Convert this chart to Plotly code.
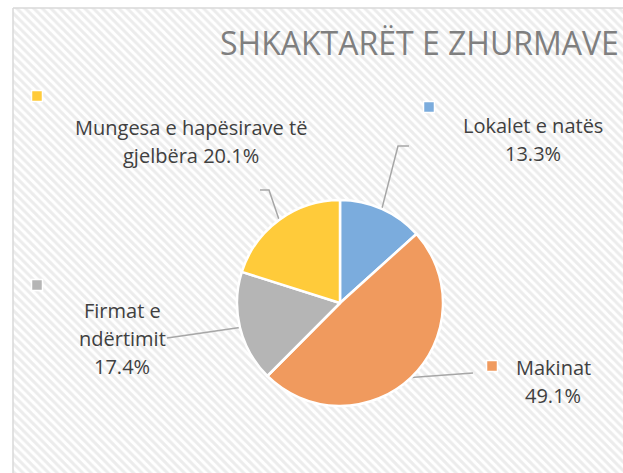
import math
import plotly.graph_objects as go

# ---- data ----
labels = ["Lokalet e natës", "Makinat", "Firmat e ndërtimit", "Mungesa e hapësirave të gjelbëra"]
values = [13.3, 49.1, 17.4, 20.1]
colors = ["#7BACDD", "#F09A5E", "#B5B5B5", "#FFCB3A"]
label_lines = [["Lokalet e natës", "13.3%"],
               ["Makinat", "49.1%"],
               ["Firmat e", "ndërtimit", "17.4%"],
               ["Mungesa e hapësirave të", "gjelbëra 20.1%"]]
title_text = "SHKAKTARËT E ZHURMAVE"

# ---- layout constants (pixels) ----
W, H = 623, 473
CX, CY, R = 340, 303, 103
label_pos = [(533, 125), (553, 367), (122, 310), (191, 127)]
marker_pos = [(429, 107), (492, 366), (37, 285), (37, 96)]
# leader-line extra points (from slice edge toward label)
leader_via = [[(398, 146), (409, 146)],
              [(473, 373)],
              [(167, 338)],
              [(269, 190), (260, 190)]]
LINE_SP = 28

fig = go.Figure()

# hatched chart-area background
fig.add_trace(go.Scatter(
    x=[13, W + 40, W + 40, 13, 13], y=[8, 8, H + 40, H + 40, 8],
    mode="lines", fill="toself",
    line=dict(color="#D9D9D9", width=1.5),
    fillcolor="white",
    fillpattern=dict(shape="\\", fgcolor="#D9D9D9", bgcolor="white", size=6, solidity=0.5),
    hoverinfo="skip", showlegend=False))

# leader lines computed from slice mid-angles
total = sum(values)
cum = 0
for i, v in enumerate(values):
    mid = (cum + v / 2) / total * 2 * math.pi
    cum += v
    ex = CX + R * math.sin(mid)
    ey = CY - R * math.cos(mid)
    xs = [ex] + [p[0] for p in leader_via[i]]
    ys = [ey] + [p[1] for p in leader_via[i]]
    fig.add_trace(go.Scatter(x=xs, y=ys, mode="lines",
                             line=dict(color="#A6A6A6", width=1.5),
                             hoverinfo="skip", showlegend=False))

# legend-like squares
fig.add_trace(go.Scatter(
    x=[p[0] for p in marker_pos], y=[p[1] for p in marker_pos], mode="markers",
    marker=dict(symbol="square", size=11, color=colors, line=dict(color="white", width=1.5)),
    hoverinfo="skip", showlegend=False))

# pie
fig.add_trace(go.Pie(
    labels=labels, values=values, sort=False, direction="clockwise", rotation=0,
    marker=dict(colors=colors, line=dict(color="white", width=2.5)),
    textinfo="none", showlegend=False,
    domain=dict(x=[(CX - R) / W, (CX + R) / W], y=[1 - (CY + R) / H, 1 - (CY - R) / H])))

annotations = []
for (lx, ly), lines in zip(label_pos, label_lines):
    for k, t in enumerate(lines):
        annotations.append(dict(x=lx, y=ly + k * LINE_SP, xref="x", yref="y", text=t,
                                showarrow=False, xanchor="center", yanchor="middle",
                                font=dict(family="Open Sans", size=20, color="#404040")))
annotations.append(dict(x=419, y=42, xref="x", yref="y", text=title_text, showarrow=False,
                        xanchor="center", yanchor="middle",
                        font=dict(family="Open Sans", size=32, color="#7F7F7F")))

fig.update_layout(
    width=W, height=H, margin=dict(l=0, r=0, t=0, b=0),
    paper_bgcolor="white", plot_bgcolor="white",
    xaxis=dict(range=[0, W], visible=False, fixedrange=True),
    yaxis=dict(range=[H, 0], visible=False, fixedrange=True),
    annotations=annotations, showlegend=False)

fig.write_html("out.html", config={"displayModeBar": False},
               post_script="document.body.style.margin='0px';document.body.style.overflow='hidden';")
